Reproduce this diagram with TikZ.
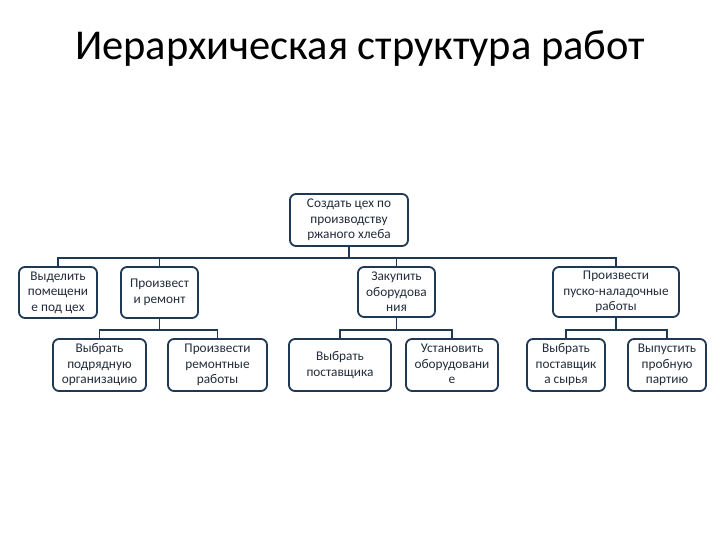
\documentclass[tikz,border=0pt]{standalone}
\usepackage{fontspec}
\setmainfont{Carlito}
\definecolor{boxline}{RGB}{31,56,84}
\definecolor{boxtext}{RGB}{35,45,60}
\begin{document}
\begin{tikzpicture}[x=1pt,y=-1pt,
  wbs/.style={draw=boxline, line width=1.8pt, rounded corners=6pt, fill=white,
    align=center, text=boxtext, inner sep=1pt,
    font=\fontsize{13.3}{15.5}\selectfont},
  conn/.style={draw=boxline, line width=1.8pt},
  titletext/.style={font=\fontsize{42.5}{50}\selectfont, text=black}]
\useasboundingbox[fill=white] (0,0) rectangle (720,540);
\node[titletext] (title) at (360,48) {Иерархическая структура работ};
\node[wbs, minimum width=118pt, minimum height=52pt] (root) at (349,220) {Создать цех по\\производству\\ржаного хлеба};
\node[wbs, minimum width=78pt, minimum height=51pt] (a1) at (58,292.5) {Выделить\\помещени\\е под цех};
\node[wbs, minimum width=77pt, minimum height=51pt] (a2) at (159.5,292.5) {Произвест\\и ремонт};
\node[wbs, minimum width=77pt, minimum height=50pt] (a3) at (396.5,292) {Закупить\\оборудова\\ния};
\node[wbs, minimum width=126pt, minimum height=50pt] (a4) at (616,292) {Произвести\\пуско-наладочные\\работы};
\node[wbs, minimum width=93pt, minimum height=52pt] (b1) at (99.5,365) {Выбрать\\подрядную\\организацию};
\node[wbs, minimum width=99pt, minimum height=52pt] (b2) at (217.5,365) {Произвести\\ремонтные\\работы};
\node[wbs, minimum width=102pt, minimum height=52pt] (b3) at (340,365) {Выбрать\\поставщика};
\node[wbs, minimum width=92pt, minimum height=52pt] (b4) at (452,365) {Установить\\оборудовани\\е\vphantom{Уд}};
\node[wbs, minimum width=78pt, minimum height=52pt] (b5) at (566,365) {Выбрать\\поставщик\\а сырья};
\node[wbs, minimum width=78pt, minimum height=52pt] (b6) at (667,365) {Выпустить\\пробную\\партию};
\draw[conn] (root.south) -- ++(0,11) -| (a1.north);
\draw[conn] (root.south) -- ++(0,11) -| (a2.north);
\draw[conn] (root.south) -- ++(0,11) -| (a3.north);
\draw[conn] (root.south) -- ++(0,11) -| (a4.north);
\draw[conn] (a2.south) -- ++(0,11) -| (b1.north);
\draw[conn] (a2.south) -- ++(0,11) -| (b2.north);
\draw[conn] (a3.south) -- ++(0,12) -| (b3.north);
\draw[conn] (a3.south) -- ++(0,12) -| (b4.north);
\draw[conn] (a4.south) -- ++(0,12) -| (b5.north);
\draw[conn] (a4.south) -- ++(0,12) -| (b6.north);
\end{tikzpicture}
\end{document}
